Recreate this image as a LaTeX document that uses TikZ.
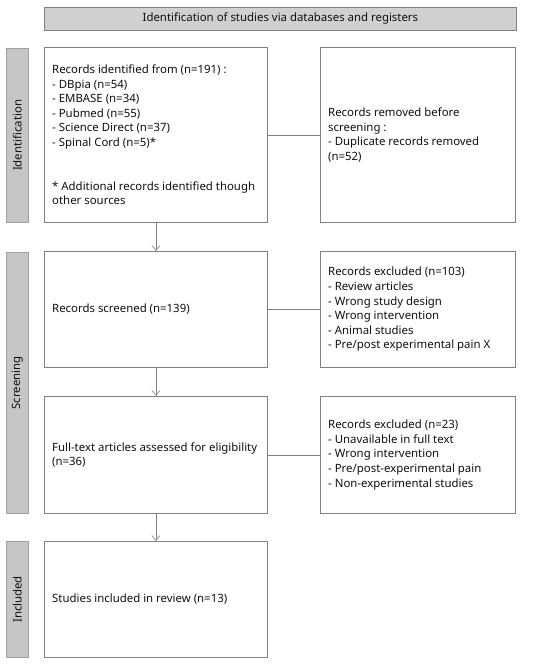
\documentclass[tikz,border=0pt]{standalone}
\usepackage{fontspec}
\setmainfont{Noto Sans}
\usetikzlibrary{arrows.meta}
\definecolor{linegray}{HTML}{808080}
\definecolor{barfill}{HTML}{C6C6C6}
\definecolor{barline}{HTML}{A0A0A0}
\definecolor{titlefill}{HTML}{D0D0D0}
\definecolor{textcol}{HTML}{111111}
\begin{document}
\begin{tikzpicture}[x=1pt,y=-1pt,
  font=\fontsize{11.4}{14.6}\selectfont, text=textcol,
  box/.style={draw=linegray, line width=0.8pt, fill=white, anchor=north west,
    inner sep=0pt},
  txt/.style={anchor=west, align=left, inner sep=0pt},
  sidebar/.style={draw=barline, line width=0.8pt, fill=barfill, anchor=north west,
    inner sep=0pt, minimum width=22pt},
  sidelabel/.style={rotate=90},
  conn/.style={draw=linegray, line width=0.8pt},
  arr/.style={conn, -{Straight Barb[length=5pt,width=8pt,line width=0.6pt]}}
]
\useasboundingbox (0,0) rectangle (550,664);

% title
\node[draw=linegray, fill=titlefill, line width=0.8pt, anchor=north west,
  minimum width=472pt, minimum height=23pt, inner sep=0pt] (title) at (44,7)
  {Identification of studies via databases and registers};

% side bars
\node[sidebar, minimum height=174pt] (bar1) at (6,48) {};
\node[sidelabel] (lab1) at (bar1.center) {Identification};
\node[sidebar, minimum height=261pt] (bar2) at (6,252) {};
\node[sidelabel] (lab2) at (bar2.center) {Screening};
\node[sidebar, minimum height=116pt] (bar3) at (6,541) {};
\node[sidelabel] (lab3) at (bar3.center) {Included};

% boxes
\node[box, minimum width=223pt, minimum height=175pt] (b1) at (44,47) {};
\node[box, minimum width=195pt, minimum height=175pt] (b2) at (320,47) {};
\node[box, minimum width=223pt, minimum height=116pt] (b3) at (44,251) {};
\node[box, minimum width=195pt, minimum height=116pt] (b4) at (320,251) {};
\node[box, minimum width=223pt, minimum height=117pt] (b5) at (44,396) {};
\node[box, minimum width=195pt, minimum height=117pt] (b6) at (320,396) {};
\node[box, minimum width=223pt, minimum height=116pt] (b7) at (44,541) {};

% texts
\node[txt] (t1) at ([xshift=8pt]b1.west)
  {Records identified from (n=191) :\\
   - DBpia (n=54)\\
   - EMBASE (n=34)\\
   - Pubmed (n=55)\\
   - Science Direct (n=37)\\
   - Spinal Cord (n=5)*\\
   \mbox{}\\
   \mbox{}\\
   \mbox{}* Additional records identified though\\
   other sources};
\node[txt] (t2) at ([xshift=8pt]b2.west)
  {Records removed before\\
   screening :\\
   - Duplicate records removed\\
   (n=52)};
\node[txt] (t3) at ([xshift=8pt]b3.west)
  {Records screened (n=139)};
\node[txt] (t4) at ([xshift=8pt]b4.west)
  {Records excluded (n=103)\\
   - Review articles\\
   - Wrong study design\\
   - Wrong intervention\\
   - Animal studies\\
   - Pre/post experimental pain X};
\node[txt] (t5) at ([xshift=8pt]b5.west)
  {Full-text articles assessed for eligibility\\
   (n=36)};
\node[txt] (t6) at ([xshift=8pt]b6.west)
  {Records excluded (n=23)\\
   - Unavailable in full text\\
   - Wrong intervention\\
   - Pre/post-experimental pain\\
   - Non-experimental studies};
\node[txt] (t7) at ([xshift=8pt]b7.west)
  {Studies included in review (n=13)};

% connectors
\draw[conn] (b1.east) -- (b2.west);
\draw[conn] (b3.east) -- (b4.west);
\draw[conn] (b5.east) -- (b6.west);
\draw[arr] (b1.south) -- (b3.north);
\draw[arr] (b3.south) -- (b5.north);
\draw[arr] (b5.south) -- (b7.north);
\end{tikzpicture}
\end{document}
